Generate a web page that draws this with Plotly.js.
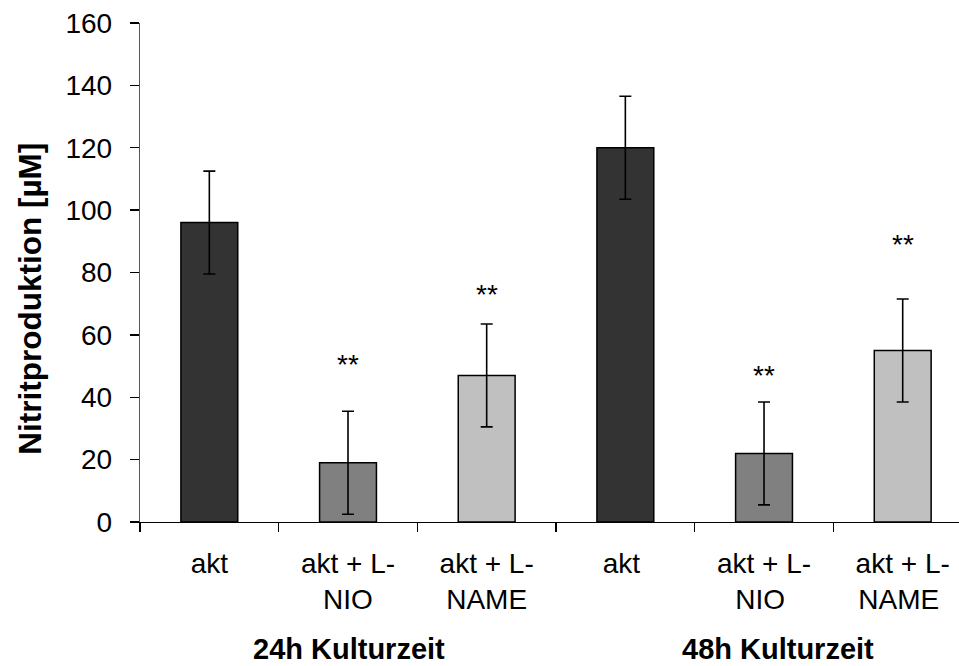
<!DOCTYPE html>
<html><head><meta charset="utf-8">
<script src="https://cdn.plot.ly/plotly-3.0.1.min.js"></script>
<style>html,body{margin:0;padding:0;background:#fff;}#chart{width:959px;height:666px;}</style>
</head><body><div id="chart"></div>
<script>
const categories = ["akt", "akt + L-<br>NIO", "akt + L-<br>NAME", "akt ", "akt + L-<br>NIO ", "akt + L-<br>NAME "];
const values = [96, 19, 47, 120, 22, 55];
const errors = [16.5, 16.5, 16.5, 16.5, 16.5, 16.5];
const barColors = ["#333333", "#808080", "#c0c0c0", "#333333", "#808080", "#c0c0c0"];
const starLevels = [null, 52, 74.5, null, 48.5, 90.5];
const groupLabels = ["24h Kulturzeit", "48h Kulturzeit"];
const groupPositions = [1.01, 4.1];
const yTicks = [0, 20, 40, 60, 80, 100, 120, 140, 160];

const font = "Liberation Sans, Arial, sans-serif";
const annotations = [];
starLevels.forEach((s, i) => {
  if (s !== null) annotations.push({x: categories[i], y: s, xref: "x", yref: "y", text: "**", showarrow: false,
    font: {family: font, size: 28, color: "#000"}, yanchor: "middle", yshift: -5});
});
groupLabels.forEach((g, i) => {
  annotations.push({x: groupPositions[i], y: 0, xref: "x", yref: "paper", text: "<b>" + g + "</b>", showarrow: false,
    font: {family: font, size: 29, color: "#000"}, yanchor: "middle", yshift: -127});
});

const trace = {
  type: "bar", x: categories, y: values,
  marker: {color: barColors, line: {color: "#000", width: 1.5}},
  width: 0.41,
  error_y: {type: "data", array: errors, visible: true, color: "#000", thickness: 1.6, width: 6},
  hoverinfo: "none"
};

const layout = {
  width: 959, height: 666,
  margin: {l: 140, r: 0, t: 23, b: 144},
  paper_bgcolor: "#fff", plot_bgcolor: "#fff",
  showlegend: false,
  font: {family: font, size: 28, color: "#000"},
  xaxis: {
    type: "category", range: [-0.5, 5.406], showgrid: false, zeroline: false,
    showline: true, linecolor: "#000", linewidth: 1.3,
    ticks: "outside", tickson: "boundaries", ticklen: 9, tickcolor: "#000", tickwidth: 1.3,
    tickfont: {family: font, size: 28, color: "#000"}, ticklabelstandoff: 16, fixedrange: true
  },
  yaxis: {
    range: [0, 160], tickvals: yTicks, showgrid: false, zeroline: false,
    showline: true, linecolor: "#555", linewidth: 1.3,
    ticks: "outside", ticklen: 9, tickcolor: "#000", tickwidth: 1.3,
    tickfont: {family: font, size: 28, color: "#000"}, ticklabelstandoff: 12,
    title: {text: "<b>Nitritproduktion [µM]\u00a0\u00a0\u00a0\u00a0\u00a0\u00a0</b>", font: {family: font, size: 31.5, color: "#000"}, standoff: 14},
    fixedrange: true
  },
  annotations: annotations
};
Plotly.newPlot("chart", [trace], layout, {displayModeBar: false, staticPlot: true});
</script></body></html>
